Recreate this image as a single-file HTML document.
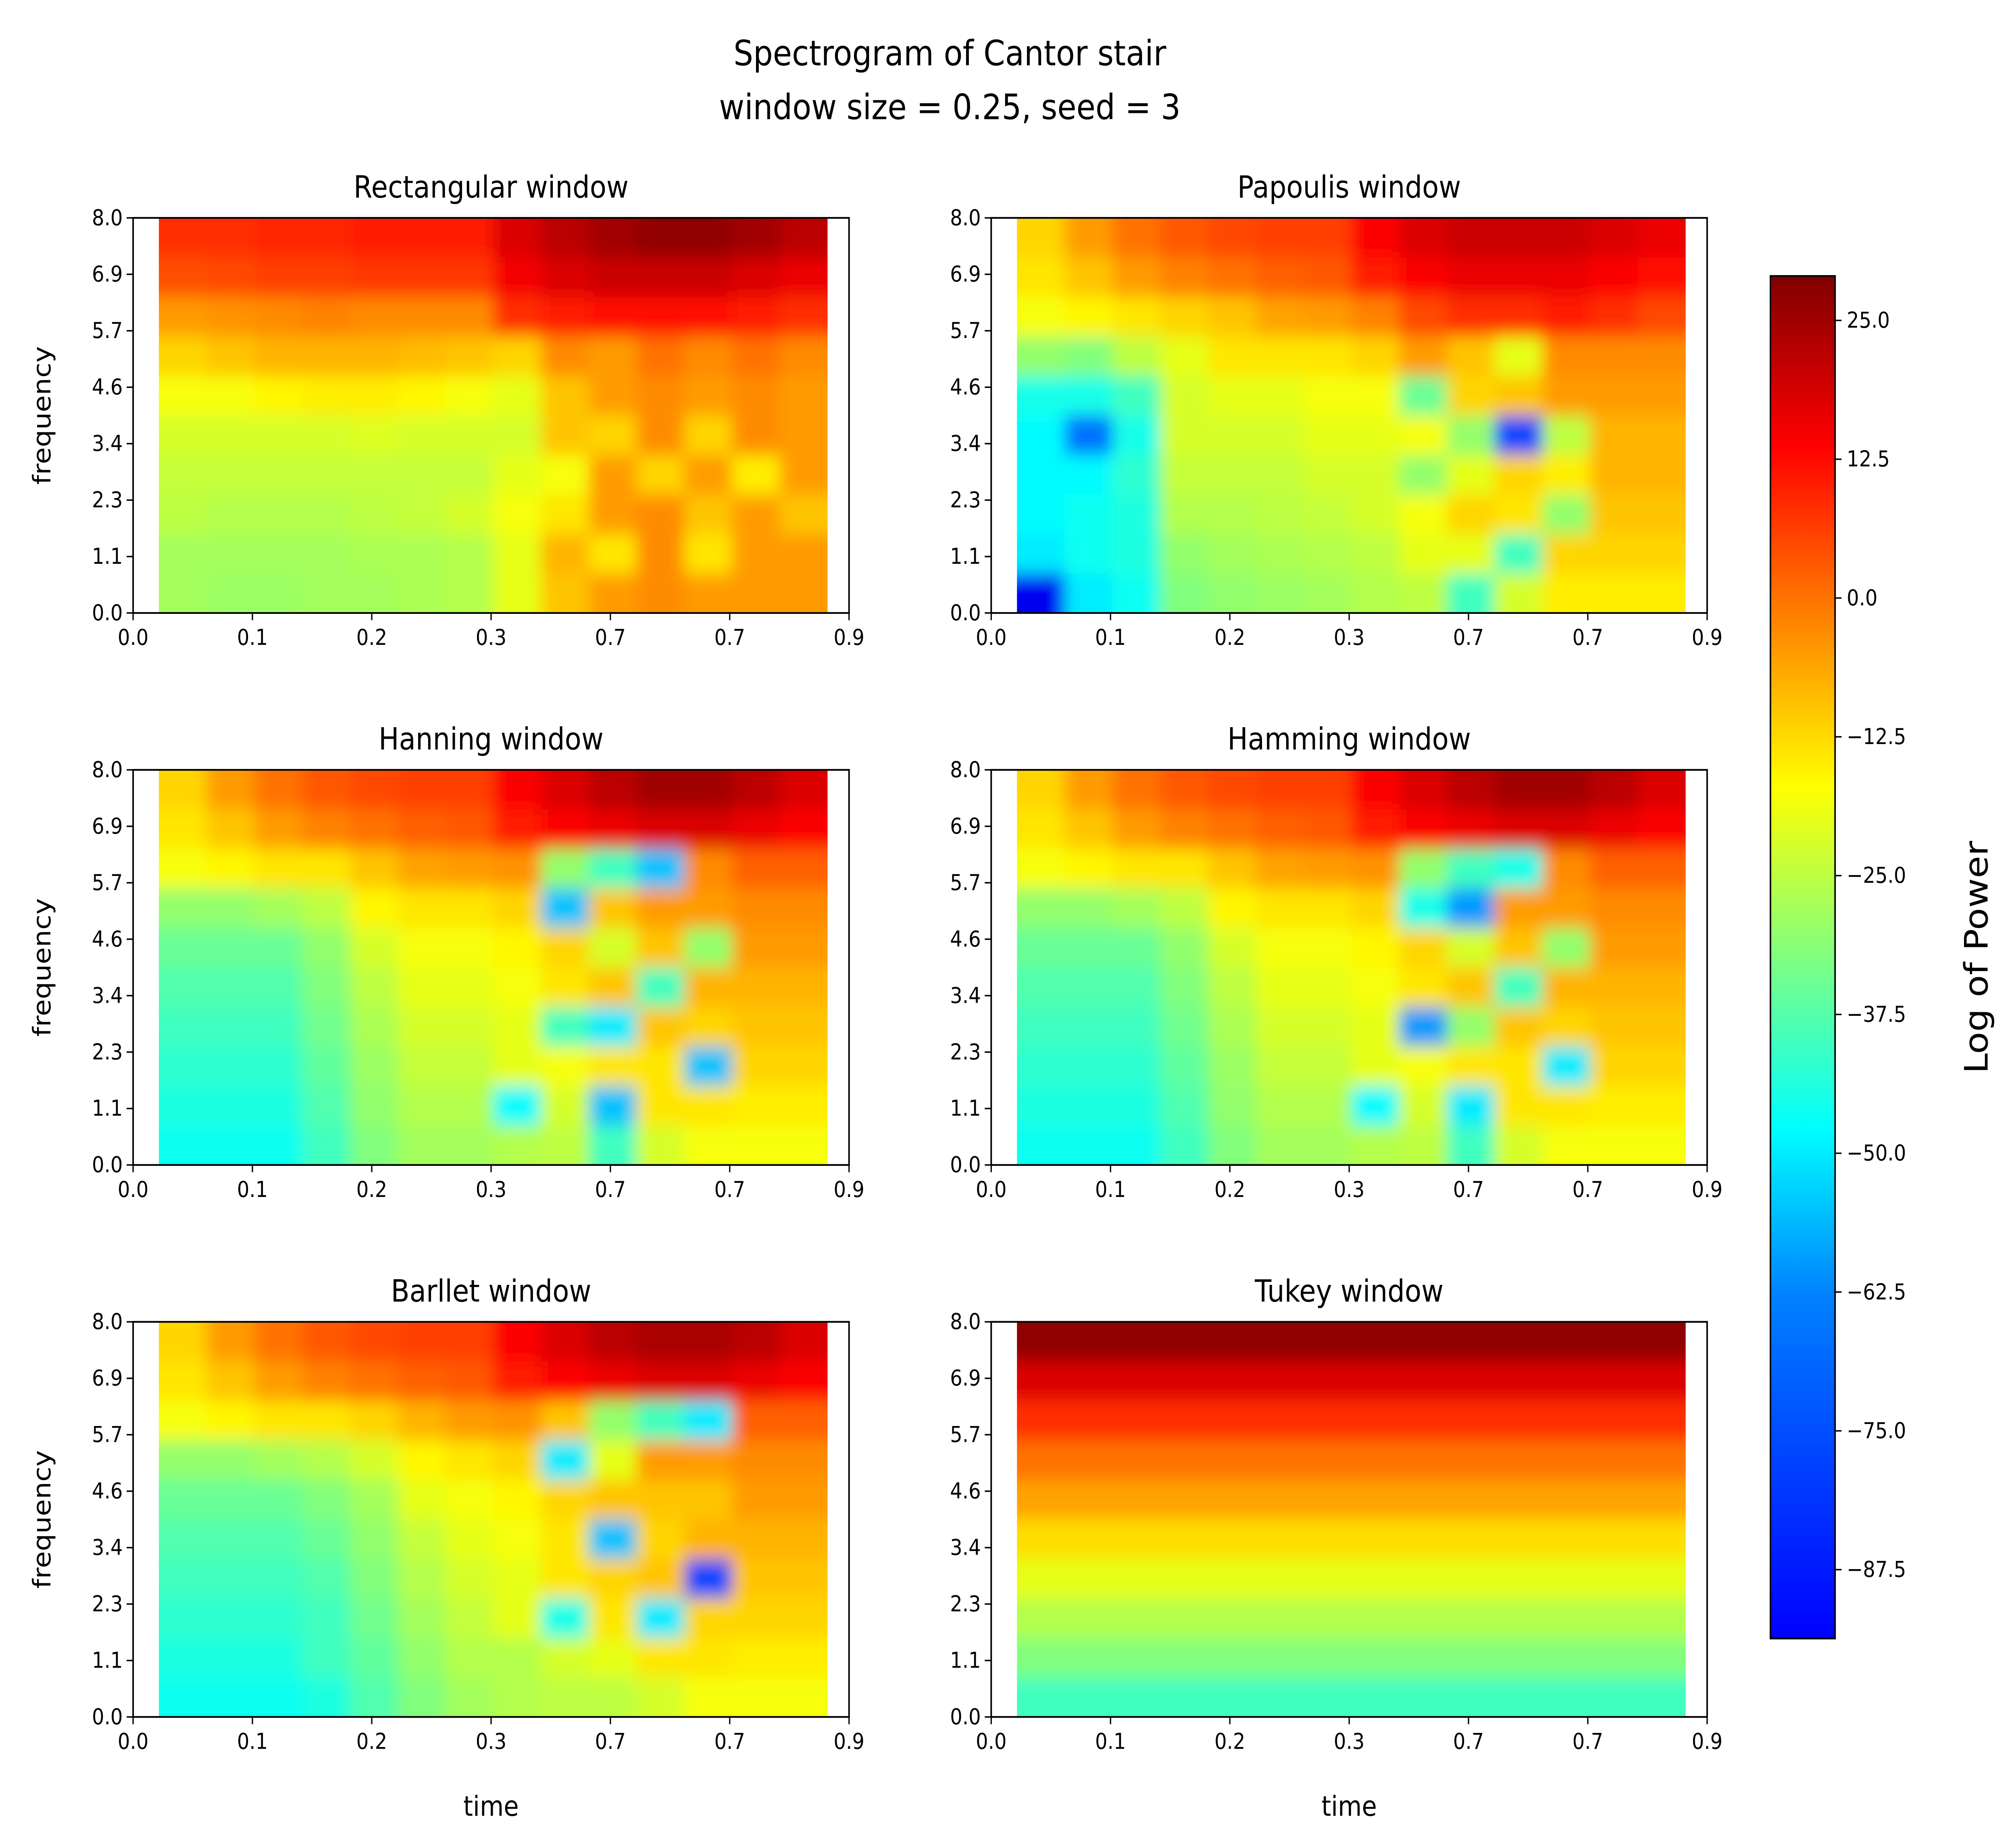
<!DOCTYPE html>
<html><head><meta charset="utf-8"><style>
html,body{margin:0;padding:0;background:#fff;overflow:hidden;width:100%;height:100%;}
svg{display:block;position:fixed;left:0;top:0;width:100vw;height:100vh;font-family:"DejaVu Sans","Liberation Sans",sans-serif;}
</style></head><body>
<svg id="fig" viewBox="0 0 1560 1267.4" preserveAspectRatio="none" xmlns="http://www.w3.org/2000/svg">
<rect width="1560" height="1267.4" fill="#fff"/>
<text x="735" y="45" font-size="24" text-anchor="middle">Spectrogram of Cantor stair</text>
<text x="735" y="82" font-size="24" text-anchor="middle">window size = 0.25, seed = 3</text>
<defs>
<filter id="blur" x="-5%" y="-5%" width="110%" height="110%"><feGaussianBlur stdDeviation="6"/></filter>
<linearGradient id="jetgrad" x1="0" y1="1" x2="0" y2="0">
<stop offset="0" stop-color="#0000ff"/>
<stop offset="0.25" stop-color="#0080ff"/><stop offset="0.375" stop-color="#00ffff"/><stop offset="0.5" stop-color="#80ff80"/>
<stop offset="0.625" stop-color="#ffff00"/><stop offset="0.75" stop-color="#ff8000"/><stop offset="0.875" stop-color="#ff0000"/><stop offset="1" stop-color="#800000"/>
</linearGradient>
</defs>
<g id="panels"></g>
<g id="cbar"></g>
<script>
const timeTickLabels=["0.0","0.1","0.2","0.3","0.7","0.7","0.9"];
const freqTickLabels=["0.0","1.1","2.3","3.4","4.6","5.7","6.9","8.0"];
const cbarTicks=[25.0,12.5,0.0,-12.5,-25.0,-37.5,-50.0,-62.5,-75.0,-87.5];
const vmin=-93.7, vmax=29;
const titles=["Rectangular window","Papoulis window","Hanning window","Hamming window","Barllet window","Tukey window"];
const rectVals=[
[8,8,9,9,10,10,10,18,22,25,27,27,25,22],
[4,5,6,6,7,7,7,15,18,20,20,20,18,16],
[-5,-4,-3,-2,-3,-3,-3,8,10,12,12,12,10,8],
[-12,-10,-8,-8,-8,-9,-10,-12,-3,-5,0,-3,0,-3],
[-18,-18,-16,-15,-15,-16,-18,-20,-10,-5,-3,-5,-3,-5],
[-22,-22,-22,-22,-21,-22,-22,-22,-10,-12,-3,-12,-3,-5],
[-24,-24,-24,-24,-24,-24,-24,-20,-18,-5,-12,-5,-15,-5],
[-25,-26,-26,-26,-25,-24,-22,-18,-14,-5,-3,-10,-5,-10],
[-28,-28,-28,-28,-27,-27,-26,-20,-8,-14,-3,-14,-5,-5],
[-28,-29,-29,-28,-28,-27,-26,-20,-10,-5,-3,-5,-5,-5]];
const papVals=[
[-12,-5,0,3,5,6,6,14,18,20,20,20,18,16],
[-14,-10,-5,-2,0,2,3,10,14,16,16,16,14,12],
[-18,-16,-14,-12,-10,-6,-5,-2,5,8,8,10,8,5],
[-30,-32,-25,-20,-14,-14,-14,-12,-5,-10,-20,-3,-3,-3],
[-45,-45,-40,-22,-20,-20,-18,-18,-35,-12,-10,-5,-5,-5],
[-48,-65,-45,-22,-22,-22,-20,-20,-18,-30,-70,-25,-8,-8],
[-48,-48,-42,-24,-24,-24,-22,-22,-30,-20,-12,-15,-8,-8],
[-48,-46,-44,-26,-26,-25,-24,-22,-18,-12,-14,-30,-10,-10],
[-50,-46,-44,-30,-28,-27,-26,-25,-20,-20,-40,-12,-12,-12],
[-80,-50,-46,-32,-30,-29,-28,-26,-25,-40,-22,-15,-15,-15]];
const hanVals=[
[-12,-5,0,3,5,6,6,14,18,22,25,25,22,18],
[-14,-10,-5,-2,0,2,3,10,14,16,18,18,16,14],
[-18,-16,-14,-14,-10,-6,-5,-4,-30,-40,-55,-3,2,2],
[-30,-30,-28,-25,-16,-14,-14,-12,-55,-10,-5,-5,-3,-3],
[-35,-35,-35,-30,-22,-18,-18,-16,-12,-22,-10,-30,-5,-5],
[-38,-38,-38,-32,-25,-20,-20,-18,-14,-10,-40,-8,-8,-8],
[-40,-40,-40,-34,-27,-22,-22,-20,-40,-50,-10,-12,-10,-10],
[-42,-42,-42,-36,-29,-24,-24,-20,-18,-14,-14,-55,-12,-12],
[-44,-44,-44,-38,-30,-26,-26,-48,-22,-55,-14,-14,-15,-15],
[-46,-46,-46,-40,-32,-28,-28,-26,-25,-40,-22,-18,-18,-18]];
const hamVals=[
[-12,-5,0,3,5,6,6,14,18,22,25,25,22,18],
[-14,-10,-5,-2,0,2,3,10,14,16,18,18,16,14],
[-18,-16,-14,-14,-10,-6,-5,-4,-30,-40,-45,-3,2,2],
[-30,-30,-28,-25,-16,-14,-14,-12,-45,-60,-5,-5,-3,-3],
[-35,-35,-35,-30,-22,-18,-18,-16,-12,-22,-10,-30,-5,-5],
[-38,-38,-38,-32,-25,-20,-20,-18,-14,-10,-40,-8,-8,-8],
[-40,-40,-40,-34,-27,-22,-22,-20,-60,-30,-10,-12,-10,-10],
[-42,-42,-42,-36,-29,-24,-24,-20,-18,-14,-14,-50,-12,-12],
[-44,-44,-44,-38,-30,-26,-26,-48,-22,-50,-14,-14,-15,-15],
[-46,-46,-46,-40,-32,-28,-28,-26,-25,-40,-22,-18,-18,-18]];
const barVals=[
[-12,-5,0,3,5,6,6,14,18,22,24,24,22,18],
[-14,-10,-5,-2,0,2,3,10,14,16,18,18,16,14],
[-18,-16,-14,-14,-12,-8,-5,-4,-10,-30,-40,-50,2,2],
[-30,-30,-28,-26,-22,-16,-14,-12,-50,-20,-5,-5,-3,-3],
[-35,-35,-35,-32,-28,-20,-18,-16,-12,-10,-10,-10,-5,-5],
[-38,-38,-38,-35,-30,-24,-20,-18,-14,-55,-12,-8,-8,-8],
[-40,-40,-40,-38,-32,-26,-22,-20,-14,-12,-10,-70,-10,-10],
[-42,-42,-42,-40,-34,-28,-24,-20,-45,-14,-50,-12,-12,-12],
[-44,-44,-44,-40,-36,-30,-26,-26,-22,-20,-14,-14,-15,-15],
[-46,-46,-46,-44,-38,-32,-28,-26,-25,-25,-22,-18,-18,-18]];
const tukeyRows=[27,18,8,0,-6,-13,-20,-26,-32,-40];
const tukeyVals=tukeyRows.map(v=>new Array(14).fill(v));
const panelVals=[rectVals,papVals,hanVals,hamVals,barVals,tukeyVals];
const panelNames=["rectangular","papoulis","hanning","hamming","barllet","tukey"];

const NS="http://www.w3.org/2000/svg";
function mk(tag,attrs,parent){const e=document.createElementNS(NS,tag);for(const k in attrs)e.setAttribute(k,attrs[k]);parent.appendChild(e);return e;}
function jet(v){let t=(v-vmin)/(vmax-vmin);t=Math.max(0,Math.min(1,t));
 const c=x=>Math.round(255*Math.max(0,Math.min(1,x)));
 return `rgb(${c(1.5-Math.abs(4*t-3))},${c(1.5-Math.abs(4*t-2))},${c(1.5-Math.abs(4*t-1))})`;}
const AX=[103,767], AY=[150,530,910], AW=554, AH=272;
const D0=0.036, D1=0.970;
const panelsG=document.getElementById('panels');
panelVals.forEach((vals,p)=>{
 const x0=AX[p%2], y0=AY[Math.floor(p/2)];
 const g=mk('g',{},panelsG);
 
 
 const dx0=x0+D0*AW, dx1=x0+D1*AW;
 const cid='clip'+p;
 const cp=mk('clipPath',{id:cid},g); mk('rect',{x:dx0,y:y0,width:dx1-dx0,height:AH},cp);
 const hm=mk('g',{'clip-path':`url(#${cid})`},g);
 const inner=mk('g',{filter:'url(#blur)'},hm);
 const nr=vals.length, nc=vals[0].length;
 const cw=(dx1-dx0)/nc, ch=AH/nr;
 vals.forEach((row,i)=>row.forEach((v,j)=>{
  let x=dx0+j*cw, y=y0+i*ch, w=cw+0.6, h=ch+0.6;
  if(j===0){x-=30;w+=30;} if(j===nc-1){w+=30;}
  if(i===0){y-=30;h+=30;} if(i===nr-1){h+=30;}
  const r=mk('rect',{x:x,y:y,width:w,height:h,fill:jet(v)},inner);
  
  
 }));
 const fr=mk('rect',{x:x0,y:y0,width:AW,height:AH,fill:'none',stroke:'#000','stroke-width':1.2},g);
 
 
 timeTickLabels.forEach((l,k)=>{const x=x0+k*AW/(timeTickLabels.length-1);
  mk('line',{x1:x,x2:x,y1:y0+AH,y2:y0+AH+5,stroke:'#000'},g);
  const t=mk('text',{x:x,y:y0+AH+22,'font-size':15,'text-anchor':'middle'},g);t.textContent=l;
  
  });
 freqTickLabels.forEach((l,k)=>{const y=y0+AH-k*AH/(freqTickLabels.length-1);
  mk('line',{x1:x0-5,x2:x0,y1:y,y2:y,stroke:'#000'},g);
  const t=mk('text',{x:x0-8,y:y+5,'font-size':15,'text-anchor':'end'},g);t.textContent=l;
  
  });
 const tt=mk('text',{x:x0+AW/2,y:y0-14,'font-size':21,'text-anchor':'middle'},g);tt.textContent=titles[p];
 
 
 if(p%2===0){const yl=mk('text',{x:0,y:0,'font-size':19,'text-anchor':'middle',transform:`translate(39,${y0+AH/2}) rotate(-90)`},g);yl.textContent='frequency';
  
  }
 if(p>=4){const xl=mk('text',{x:x0+AW/2,y:y0+AH+68,'font-size':19,'text-anchor':'middle'},g);xl.textContent='time';
  
  }
});
const cb=document.getElementById('cbar');
const CBX=1370, CBY=190, CBW=50, CBH=938;
const cr=mk('rect',{x:CBX,y:CBY,width:CBW,height:CBH,fill:'url(#jetgrad)',stroke:'#000','stroke-width':1.2},cb);


cbarTicks.forEach(v=>{const y=CBY+CBH*(vmax-v)/(vmax-vmin);
 mk('line',{x1:CBX+CBW,x2:CBX+CBW+5,y1:y,y2:y,stroke:'#000'},cb);
 const t=mk('text',{x:CBX+CBW+9,y:y+5,'font-size':15},cb);t.textContent=(v<0?'\u2212':'')+Math.abs(v).toFixed(1);
 
 });
const cl=mk('text',{x:0,y:0,'font-size':25,'text-anchor':'middle',transform:`translate(1538,${CBY+CBH/2}) rotate(-90)`},cb);cl.textContent='Log of Power';


</script>
</svg>
</body></html>
